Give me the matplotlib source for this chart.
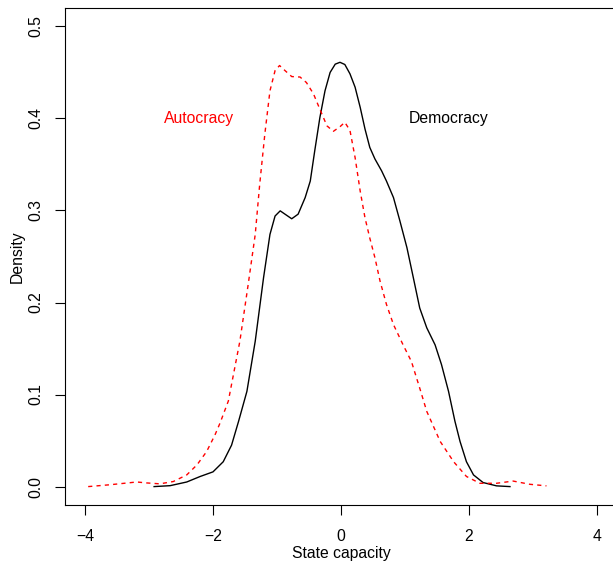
import matplotlib
matplotlib.use("Agg")
import matplotlib.pyplot as plt

plt.rcParams['font.family'] = ['Liberation Sans', 'DejaVu Sans']

# density curves
dem_x = [-2.92, -2.67, -2.41, -2.20, -2.00, -1.84, -1.71, -1.60, -1.47, -1.34,
         -1.21, -1.11, -1.03, -0.95, -0.875, -0.77, -0.67, -0.56, -0.48, -0.41,
         -0.33, -0.25, -0.17, -0.09, -0.016, 0.06, 0.14, 0.22, 0.30, 0.375,
         0.45, 0.53, 0.635, 0.71, 0.82, 0.92, 1.03, 1.13, 1.23, 1.34,
         1.47, 1.57, 1.68, 1.78, 1.86, 1.96, 2.07, 2.22, 2.43, 2.64]
dem_y = [0.0, 0.001, 0.005, 0.011, 0.016, 0.027, 0.045, 0.071, 0.1035, 0.158,
         0.227, 0.274, 0.294, 0.2996, 0.296, 0.291, 0.296, 0.314, 0.332, 0.365,
         0.401, 0.430, 0.450, 0.459, 0.461, 0.4586, 0.4485, 0.434, 0.412, 0.3885,
         0.3685, 0.356, 0.343, 0.332, 0.314, 0.2887, 0.2596, 0.227, 0.194, 0.1725,
         0.154, 0.1326, 0.1035, 0.071, 0.049, 0.027, 0.0127, 0.0044, 0.0008, 0.0]

aut_x = [-3.95, -3.61, -3.19, -3.04, -2.83, -2.62, -2.41, -2.25, -2.10, -1.97,
         -1.89, -1.76, -1.58, -1.45, -1.34, -1.27, -1.19, -1.11, -1.03, -0.96,
         -0.875, -0.77, -0.64, -0.54, -0.43, -0.33, -0.22, -0.12, -0.016, 0.06,
         0.14, 0.22, 0.30, 0.375, 0.45, 0.53, 0.61, 0.71, 0.82, 0.97,
         1.10, 1.23, 1.34, 1.55, 1.76, 1.96, 2.17, 2.43, 2.69, 2.95, 3.21]
aut_y = [0.0, 0.002, 0.005, 0.004, 0.003, 0.0055, 0.0127, 0.0236, 0.038, 0.056,
         0.069, 0.093, 0.158, 0.2197, 0.274, 0.3286, 0.383, 0.430, 0.452, 0.4575,
         0.452, 0.4455, 0.445, 0.439, 0.4267, 0.410, 0.392, 0.386, 0.391, 0.3958,
         0.387, 0.3576, 0.321, 0.292, 0.270, 0.2487, 0.2233, 0.198, 0.176, 0.154,
         0.136, 0.107, 0.0817, 0.049, 0.027, 0.011, 0.0036, 0.0036, 0.006, 0.0025, 0.0008]

x_ticks = [-4, -2, 0, 2, 4]
y_ticks = [0.0, 0.1, 0.2, 0.3, 0.4, 0.5]
y_tick_labels = ["0.0", "0.1", "0.2", "0.3", "0.4", "0.5"]

fs = 11.3
W, H = 613, 561
fig = plt.figure(figsize=(W / 100, H / 100), dpi=100)
# axes box runs a bit past the right edge of the picture
ax = fig.add_axes([64.5 / W, (H - 505) / H, 553 / W, 497 / H])

ax.plot(dem_x, dem_y, color="black", lw=1.0, solid_joinstyle="round")
ax.plot(aut_x, aut_y, color="#ff0000", lw=1.0, dashes=(3, 3))

ax.text(-2.22, 0.40, "Autocracy", color="#ff0000", fontsize=fs, ha="center", va="center")
ax.text(1.68, 0.40, "Democracy", color="black", fontsize=fs, ha="center", va="center")

ax.set_xlim(-4.32, 4.32)
ax.set_ylim(-0.02, 0.52)
ax.set_xticks(x_ticks)
ax.set_yticks(y_ticks)
ax.set_yticklabels(y_tick_labels, rotation=90, va="center")
ax.tick_params(axis="both", direction="out", length=7.5, width=0.8, labelsize=fs, pad=8)
ax.tick_params(axis="x", pad=9.5)
for s in ax.spines.values():
    s.set_linewidth(0.8)

ax.set_xlabel("State capacity", fontsize=fs, labelpad=2)
ax.set_ylabel("Density", fontsize=fs, labelpad=2)

fig.savefig("out.png", dpi=100)
